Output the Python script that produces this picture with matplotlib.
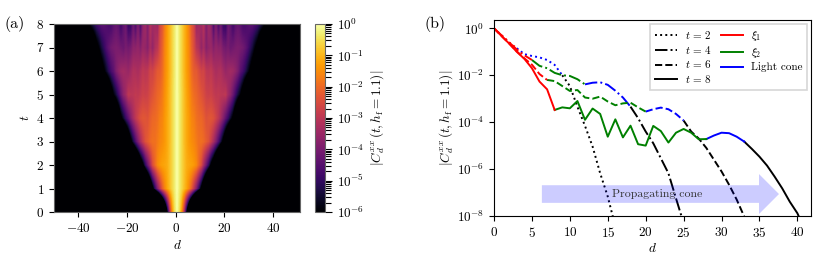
#!/usr/bin/python3

import numpy as np
import matplotlib
matplotlib.use('Agg')
import matplotlib.pyplot as plt
import matplotlib.patches as mpatches
from matplotlib.cm import ScalarMappable
from matplotlib.colors import LogNorm
from matplotlib.lines import Line2D
from matplotlib.ticker import LogLocator

plt.rcParams['font.family'] = 'cmr10'
plt.rcParams['mathtext.fontset'] = 'cm'
plt.rcParams['axes.formatter.use_mathtext'] = True
plt.rcParams['axes.unicode_minus'] = True
plt.rcParams['font.size'] = 9.5

# log10 |C| against d = 0, 1, 2 ..., tails run on below the visible range
t2_vals = [0, -.3, -.6, -.85, -1.1, -1.18, -1.24, -1.35, -1.56, -2.0, -2.46, -3.34, -4.16,
           -5.04, -6.18, -7.17, -8.45, -9.7, -11, -12.4]
t4_vals = [0, -.3, -.6, -.9, -1.15, -1.35, -1.6, -1.7, -1.9, -2.0, -2.03, -2.17, -2.39,
           -2.32, -2.3, -2.41, -2.66, -2.95, -3.34, -3.83, -4.4, -4.9, -5.54, -6.18, -7.25, -8.3,
           -9.5, -10.8, -12.2]
t6_vals = [0, -.33, -.65, -.98, -1.28, -1.55, -1.95, -2.2, -2.25, -2.46, -2.67, -2.63, -2.95,
           -3.0, -2.91, -3.12, -3.28, -3.2, -3.17, -3.37, -3.55, -3.45, -3.38, -3.45, -3.65,
           -3.93, -4.4, -4.7, -5.1, -5.6, -6.1, -6.67, -7.3, -8.03, -8.9, -9.9, -11, -12.2]
t8_vals = [0, -.33, -.65, -1.0, -1.3, -1.7, -2.27, -2.6, -3.48, -3.37, -3.41, -3.1, -3.9,
           -3.42, -3.65, -4.62, -3.88, -4.65, -4.15, -4.94, -5.0, -4.16, -4.38, -4.87, -4.45,
           -4.29, -4.45, -4.73, -4.72, -4.57, -4.45, -4.47, -4.62, -4.83, -5.14, -5.47, -5.85,
           -6.32, -6.82, -7.39, -7.88, -8.6, -9.5, -10.5, -11.6, -12.8]

# where each curve changes colour: red up to first, green up to second, blue up to third
t2_breaks = [3, 3, 9]
t4_breaks = [5, 12, 18]
t6_breaks = [7, 20, 25]
t8_breaks = [8, 28, 33]

# rows of the heat map only seen in panel (a)
t0_vals = [0, -.5, -1.4, -3.2, -6, -9, -12, -15, -18, -21, -24]
t1_vals = [0, -.3, -.6, -.9, -1.2, -1.6, -2.2, -3.0, -3.9, -5.0, -6.3, -7.8, -9.4, -11, -13]
t3_vals = [0, -.3, -.6, -.9, -1.15, -1.35, -1.5, -1.6, -1.75, -1.9, -1.9, -2.0, -2.2, -2.4,
           -2.8, -3.3, -3.9, -4.6, -5.4, -6.3, -7.4, -8.6, -9.9, -11.3, -12.8]
t5_vals = [0, -.3, -.6, -.92, -1.2, -1.45, -1.75, -1.95, -2.05, -2.2, -2.35, -2.5, -2.7,
           -2.75, -2.7, -2.85, -2.95, -2.9, -3.0, -3.0, -2.95, -3.4, -3.7, -4.2, -4.8, -5.4,
           -5.9, -6.7, -7.7, -8.7, -9.8, -11, -12.3]
t7_vals = [0, -.33, -.65, -.98, -1.3, -1.6, -2.1, -2.5, -3.0, -3.2, -3.6, -3.3, -3.8, -3.6,
           -3.5, -3.8, -3.6, -3.7, -3.7, -4.0, -4.1, -4.0, -4.2, -4.1, -4.0, -3.95, -4.0,
           -4.1, -4.3, -4.6, -5.0, -5.4, -5.9, -6.4, -7.2, -8.1, -9.1, -10.2, -11.4, -12.7]

floor = -14
half_width = 50


def full_row(vals):
    # mirror around d = 0, nothing past the tail
    row = np.full(half_width + 1, float(floor))
    row[:len(vals)] = vals
    return np.concatenate((row[:0:-1], row))


rows = [t0_vals, t1_vals, t2_vals, t3_vals, t4_vals, t5_vals, t6_vals, t7_vals, t8_vals]
heat = np.array([full_row(r) for r in rows])

fig = plt.figure(figsize=(8.31, 2.69), dpi=100)
W, H = 831.0, 269.0


def add_ax(x0, y0, x1, y1):
    # pixel box, measured from the top left
    return fig.add_axes([x0 / W, 1 - y1 / H, (x1 - x0) / W, (y1 - y0) / H])


# panel a
ax1 = add_ax(54, 24, 300, 212)
im = ax1.imshow(heat, origin='lower', aspect='auto', cmap='inferno', vmin=-6, vmax=0,
                extent=[-50, 51, -0.5, 8.5], interpolation='bilinear', interpolation_stage='data')
ax1.set_xlim(-50, 51)
ax1.set_ylim(0, 8)
ax1.set_xticks([-40, -20, 0, 20, 40])
ax1.set_yticks(range(9))
ax1.set_xticklabels(['$-40$', '$-20$', '$0$', '$20$', '$40$'])
ax1.set_yticklabels(['$%d$' % i for i in range(9)])
ax1.set_xlabel('$d$', labelpad=3)
ax1.set_ylabel('$t$', labelpad=3)
for s in ax1.spines.values():
    s.set_color('#666666')

cax = add_ax(315, 24, 325, 212)
sm = ScalarMappable(norm=LogNorm(vmin=1e-6, vmax=1), cmap='inferno')
cb = fig.colorbar(sm, cax=cax)
cb.ax.yaxis.set_major_locator(LogLocator(base=10, numticks=10))
cb.ax.yaxis.set_minor_locator(LogLocator(base=10, subs=np.arange(2, 10) * 1.0, numticks=100))
cb.ax.tick_params(which='minor', length=4, width=0.8)
cb.ax.tick_params(which='major', length=5, width=0.8)
cb.set_label(r'$|C_d^{xx}\,(t, h_{\rm f} = 1.1)|$', labelpad=3)
cb.outline.set_edgecolor('#666666')

# panel b
ax2 = add_ax(494, 20, 811, 216)


def plot_curve(vals, breaks, ls):
    d = np.arange(len(vals))
    y = 10.0 ** np.array(vals)
    a, b, c = breaks
    lw = 1.4
    ax2.plot(d[c:], y[c:], color='black', ls=ls, lw=lw)
    ax2.plot(d[b:c + 1], y[b:c + 1], color='blue', ls=ls, lw=lw)
    ax2.plot(d[a:b + 1], y[a:b + 1], color='green', ls=ls, lw=lw)
    ax2.plot(d[:a + 1], y[:a + 1], color='red', ls=ls, lw=lw)


plot_curve(t2_vals, t2_breaks, ':')
plot_curve(t4_vals, t4_breaks, '-.')
plot_curve(t6_vals, t6_breaks, '--')
plot_curve(t8_vals, t8_breaks, '-')

ax2.set_yscale('log')
ax2.set_xlim(0, 41.8)
ax2.set_ylim(1e-8, 10 ** 0.354)
ax2.set_xticks(range(0, 45, 5))
ax2.set_xticklabels(['$%d$' % i for i in range(0, 45, 5)])
ax2.set_yticks([1, 1e-2, 1e-4, 1e-6, 1e-8])
ax2.yaxis.set_minor_locator(plt.NullLocator())
ax2.set_xlabel('$d$', labelpad=2)
ax2.set_ylabel(r'$|C_d^{xx}\,(t, h_{\rm f} = 1.1)|$', labelpad=1.5)

handles = [Line2D([], [], color='black', ls=':', lw=1.4, label='$t\\,=\\,2$'),
           Line2D([], [], color='black', ls='-.', lw=1.4, label='$t\\,=\\,4$'),
           Line2D([], [], color='black', ls='--', lw=1.4, label='$t\\,=\\,6$'),
           Line2D([], [], color='black', ls='-', lw=1.4, label='$t\\,=\\,8$'),
           Line2D([], [], color='red', lw=1.4, label=r'$\xi_1$'),
           Line2D([], [], color='green', lw=1.4, label=r'$\xi_2$'),
           Line2D([], [], color='blue', lw=1.4, label='Light cone'),
           Line2D([], [], color='none', label=' ')]
leg = ax2.legend(handles=handles, ncol=2, loc='upper right', fontsize=8, columnspacing=0.8,
                 handlelength=2.0, handletextpad=0.7, labelspacing=0.25, borderaxespad=0.4,
                 borderpad=0.4, fancybox=False)
leg.get_frame().set_edgecolor('0.8')
leg.get_frame().set_linewidth(1.2)

# arrow over the curves, axes fraction
arrow = mpatches.FancyArrow(0.151, 0.112, 0.748, 0, width=0.09, length_includes_head=True,
                            head_width=0.204, head_length=0.063, transform=ax2.transAxes,
                            color='#0000ff', alpha=0.2, lw=0, zorder=5)
ax2.add_patch(arrow)
ax2.text(0.514, 0.112, 'Propagating cone', transform=ax2.transAxes, ha='center', va='center',
         fontsize=8.5, color='#333333', zorder=6)

fig.text(5 / W, 1 - 24 / H, '(a)', fontsize=11.5, va='center')
fig.text(424 / W, 1 - 24 / H, '(b)', fontsize=11.5, va='center')

fig.savefig('out.png', dpi=100)
